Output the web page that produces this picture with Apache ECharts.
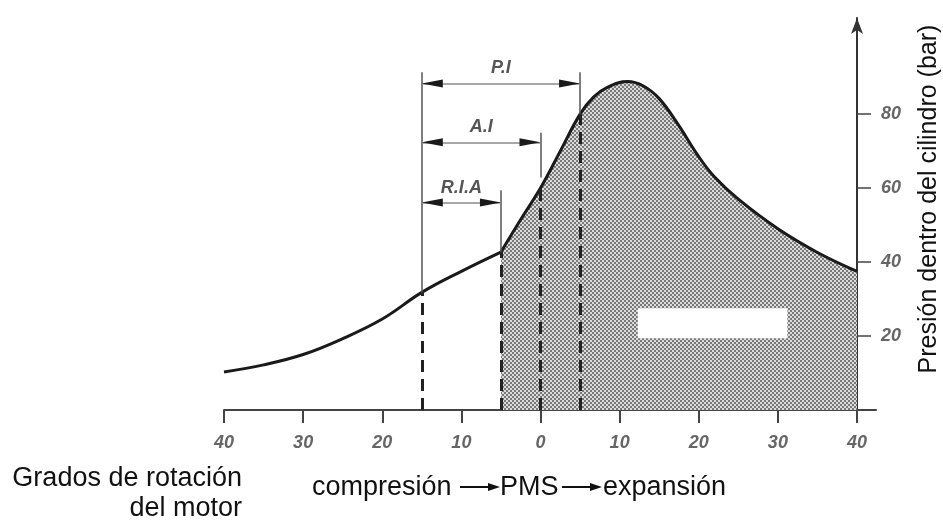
<!DOCTYPE html>
<html><head><meta charset="utf-8">
<script src="https://cdn.jsdelivr.net/npm/echarts@6/dist/echarts.min.js"></script>
<style>html,body{margin:0;padding:0;background:#fff}#c{width:943px;height:525px}</style>
</head><body><div id="c"></div>
<script>
// ---- data ----
const xTicks = [-40, -30, -20, -10, 0, 10, 20, 30, 40];
const yTicks = [20, 40, 60, 80];
const compressionDeg = [-40, -35, -30, -25, -20, -15, -10, -5];
const compressionBar = [10.3, 12.2, 15, 19.3, 24.6, 31.8, 37.5, 42.7];
const combustionDeg = [-5, -2.5, 0, 2.5, 5, 6.7, 8.5, 11, 13, 15, 17.3, 20, 22, 25, 30, 35, 40];
const combustionBar = [42.7, 51.5, 60, 70, 80, 84.6, 87.3, 88.8, 87.6, 84.2, 77.5, 68.5, 63, 57, 49, 42.6, 37.5];
const markerDeg = [-15, -5, 0, 5];
const markerBar = [31.8, 42.7, 60, 80];
const solidBottom = [31.8, 42.7, 62.9, 80];
const solidTop = [91.3, 59.4, 75, 91.3];
const bracketNames = ['P.I', 'A.I', 'R.I.A'];
const bracketStart = [-15, -15, -15];
const bracketEnd = [5, 0, -5];
const bracketLevel = [88.3, 72.4, 56.1];
const blankBox = [12.3, 19.4, 31.2, 27.5];

// ---- pattern ----
const pc = document.createElement('canvas');
pc.width = 4; pc.height = 4;
const g = pc.getContext('2d');
g.fillStyle = '#dadada'; g.fillRect(0, 0, 4, 4);
g.fillStyle = '#7a7a7a'; g.fillRect(0, 0, 2, 2); g.fillRect(2, 2, 2, 2);

const zip = (a, b) => a.map((v, i) => [v, b[i]]);
const FONT = '"Liberation Sans", Arial, sans-serif';
const tickFont = { fontStyle: 'italic', fontWeight: 'bold', fontSize: 18, color: '#666', fontFamily: FONT };

const mlData = [];
markerDeg.forEach((d, i) => {
  mlData.push([{ coord: [d, 0], lineStyle: { type: [12, 7], width: 3, color: '#222' } }, { coord: [d, markerBar[i]] }]);
  mlData.push([{ coord: [d, solidBottom[i]], lineStyle: { type: 'solid', width: 1.5, color: '#555' } }, { coord: [d, solidTop[i]] }]);
});
bracketNames.forEach((n, i) => {
  mlData.push([
    { coord: [bracketStart[i], bracketLevel[i]], name: n, lineStyle: { type: 'solid', width: 1.5, color: '#8a8a8a' },
      label: { show: true, formatter: n, position: 'insideMiddleTop', distance: 6, fontStyle: 'italic', fontWeight: 'bold', fontSize: 18, color: '#555', fontFamily: FONT } },
    { coord: [bracketEnd[i], bracketLevel[i]] }
  ]);
  mlData.push([
    { coord: [bracketStart[i], bracketLevel[i]], symbol: 'triangle', symbolSize: [8, 21], symbolOffset: [0, 10.5],
      lineStyle: { type: 'solid', width: 0, color: '#1a1a1a' } },
    { coord: [bracketEnd[i], bracketLevel[i]], symbol: 'triangle', symbolSize: [8, 21], symbolOffset: [0, 10.5] }
  ]);
});

const chart = echarts.init(document.getElementById('c'), null, { renderer: 'canvas' });
chart.setOption({
  animation: false,
  backgroundColor: '#fff',
  grid: { left: 224, right: 86, top: 18, bottom: 115 },
  xAxis: {
    type: 'value', min: -40, max: 40, interval: 10,
    axisLine: { lineStyle: { color: '#444', width: 2 } },
    axisTick: { length: 13, lineStyle: { color: '#444', width: 2 } },
    axisLabel: Object.assign({ formatter: v => Math.abs(v), margin: 24, customValues: xTicks }, tickFont),
    splitLine: { show: false }
  },
  yAxis: {
    type: 'value', position: 'right', min: 0, max: 106,
    axisLine: { show: true, onZero: false, symbol: ['none', 'arrow'], symbolSize: [9, 16], lineStyle: { color: '#333', width: 2 } },
    axisTick: { show: true, length: 14, customValues: yTicks, lineStyle: { color: '#444', width: 1.5 } },
    axisLabel: Object.assign({ margin: 24, customValues: yTicks }, tickFont),
    splitLine: { show: false }
  },
  series: [
    {
      type: 'line', data: zip(compressionDeg, compressionBar), smooth: 0.4, symbol: 'none', z: 3,
      lineStyle: { color: '#1a1a1a', width: 3 }
    },
    {
      type: 'line', data: zip(combustionDeg, combustionBar), smooth: 0.4, symbol: 'none', z: 3,
      lineStyle: { color: '#1a1a1a', width: 3 },
      areaStyle: { color: { image: pc, repeat: 'repeat' }, opacity: 1 },
      markLine: { silent: true, symbol: ['none', 'none'], label: { show: false }, data: mlData }
    },
    {
      type: 'custom', z: 5, silent: true,
      data: [blankBox],
      renderItem: (p, api) => {
        const a = api.coord([api.value(0), api.value(1)]);
        const b = api.coord([api.value(2), api.value(3)]);
        return { type: 'rect', shape: { x: a[0], y: b[1], width: b[0] - a[0], height: a[1] - b[1] }, style: { fill: '#fff' } };
      }
    }
  ]
});

// axis extensions and texts
const p0 = chart.convertToPixel({ gridIndex: 0 }, [40, 0]);
const p1 = chart.convertToPixel({ gridIndex: 0 }, [42.5, 0]);
const p2 = chart.convertToPixel({ gridIndex: 0 }, [40, -3]);
const txt = (t, x, y, align, size) => ({ type: 'text', x, y, style: { text: t, font: size + 'px ' + FONT, fill: '#111', align, verticalAlign: 'middle' } });
chart.setOption({
  graphic: [
    { type: 'line', shape: { x1: p0[0], y1: p0[1], x2: p1[0], y2: p1[1] }, style: { stroke: '#444', lineWidth: 2 } },
    { type: 'line', shape: { x1: p0[0], y1: p0[1], x2: p2[0], y2: p2[1] }, style: { stroke: '#333', lineWidth: 2 } },
    { type: 'text', x: 929, y: 199, rotation: Math.PI / 2, style: { text: 'Presión dentro del cilindro (bar)', font: '25px ' + FONT, fill: '#111', align: 'center', verticalAlign: 'middle' } },
    txt('Grados de rotación', 242, 479, 'right', 27),
    txt('del motor', 242, 509, 'right', 27),
    txt('compresión', 312, 488, 'left', 27),
    txt('PMS', 500, 488, 'left', 27),
    txt('expansión', 603, 488, 'left', 27),
    { type: 'line', shape: { x1: 460, y1: 487, x2: 492, y2: 487 }, style: { stroke: '#111', lineWidth: 2 } },
    { type: 'polygon', shape: { points: [[488, 483], [500, 487], [488, 491]] }, style: { fill: '#111' } },
    { type: 'line', shape: { x1: 562, y1: 487, x2: 594, y2: 487 }, style: { stroke: '#111', lineWidth: 2 } },
    { type: 'polygon', shape: { points: [[590, 483], [602, 487], [590, 491]] }, style: { fill: '#111' } }
  ]
});
</script>
</body></html>
